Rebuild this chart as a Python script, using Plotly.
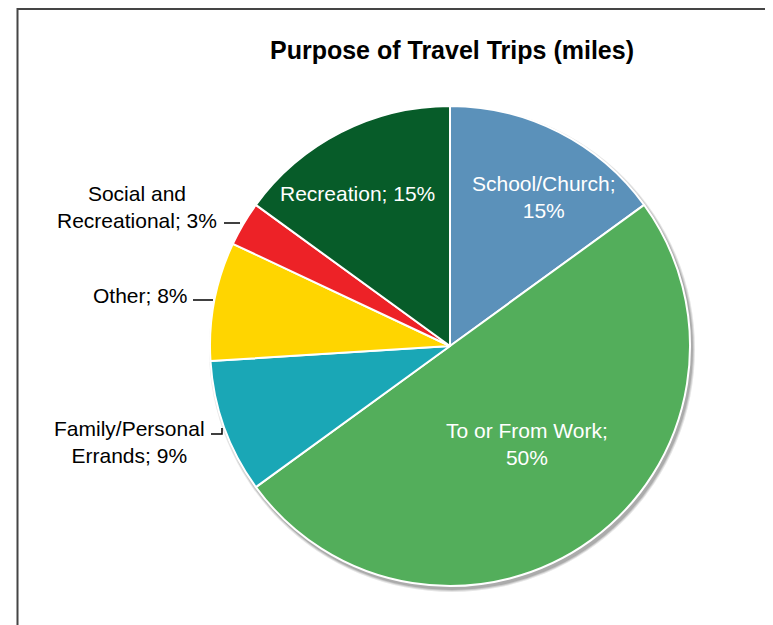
import plotly.graph_objects as go

# ---- data ----
categories = ["School/Church", "To or From Work", "Family/Personal Errands",
              "Other", "Social and Recreational", "Recreation"]
display_labels = ["School/Church;<br>", "To or From Work;<br>", "Family/Personal<br>Errands; ",
                  "Other; ", "Social and<br>Recreational; ", "Recreation; "]
values = [15, 50, 9, 8, 3, 15]
colors = ["#5B91BA", "#53AE5B", "#1AA7B6", "#FFD500", "#ED2227", "#075C29"]
title_text = "Purpose of Travel Trips (miles)"

W, H = 773, 625
OFF = 8  # page body margin offset
CX, CY, R = 450 - OFF, 346 - OFF, 240  # pie centre / radius in pixels


def px(x):
    return (x) / W


def py(y):
    return 1 - (y) / H


fig = go.Figure()
fig.add_trace(go.Pie(
    labels=categories,
    values=values,
    sort=False,
    direction="clockwise",
    rotation=0,
    marker=dict(colors=colors, line=dict(color="white", width=2)),
    textinfo="none",
    hoverinfo="label+percent",
    showlegend=False,
    domain=dict(x=[px(CX - R), px(CX + R)], y=[py(CY + R), py(CY - R)]),
))

# label positions (pixel centres in the reference) and styling
label_pos = [(544, 197), (527, 444), (129, 442), (140, 295), (137, 207), (357, 194)]
inside = [True, True, False, False, False, True]
total = sum(values)
annotations = []
for lab, v, (x, y), ins in zip(display_labels, values, label_pos, inside):
    pct = round(100 * v / total)
    annotations.append(dict(
        x=px(x - OFF), y=py(y - OFF), xref="paper", yref="paper",
        text=f"{lab}{pct}%", showarrow=False,
        font=dict(family="Liberation Sans, Arial", size=21,
                  color="white" if ins else "black"),
        align="center", xanchor="center", yanchor="middle",
    ))

shapes = []
# soft shadow behind the pie
for dr, op in [(3, 0.10), (2, 0.12), (1, 0.15)]:
    shapes.append(dict(type="circle", xref="paper", yref="paper", layer="below",
                       x0=px(CX - R + 2 - dr), x1=px(CX + R + 2 + dr),
                       y0=py(CY + R + 3 + dr), y1=py(CY - R + 3 - dr),
                       fillcolor=f"rgba(0,0,0,{op})", line=dict(width=0)))
# leader lines
leader = [
    [(224, 223), (240, 223)],
    [(193, 300), (213, 300)],
    [(211, 434), (222, 434), (222, 428)],
]
for pts in leader:
    path = "M " + " L ".join(f"{px(x - OFF)},{py(y - OFF)}" for x, y in pts)
    shapes.append(dict(type="path", xref="paper", yref="paper", path=path,
                       line=dict(color="black", width=1.5)))
# chart border
shapes.append(dict(type="rect", xref="paper", yref="paper",
                   x0=px(17.5 - OFF), x1=1.2, y0=-0.2, y1=py(1),
                   line=dict(color="#454545", width=2), fillcolor="rgba(0,0,0,0)"))

fig.update_layout(
    width=W, height=H,
    margin=dict(l=0, r=0, t=0, b=0),
    paper_bgcolor="white", plot_bgcolor="white",
    title=dict(text=f"<b>{title_text}</b>", x=px(452 - OFF), y=py(50 - OFF),
               xanchor="center", yanchor="middle",
               font=dict(family="Liberation Sans, Arial", size=25, color="black")),
    annotations=annotations,
    shapes=shapes,
)

fig.write_html("out.html")
